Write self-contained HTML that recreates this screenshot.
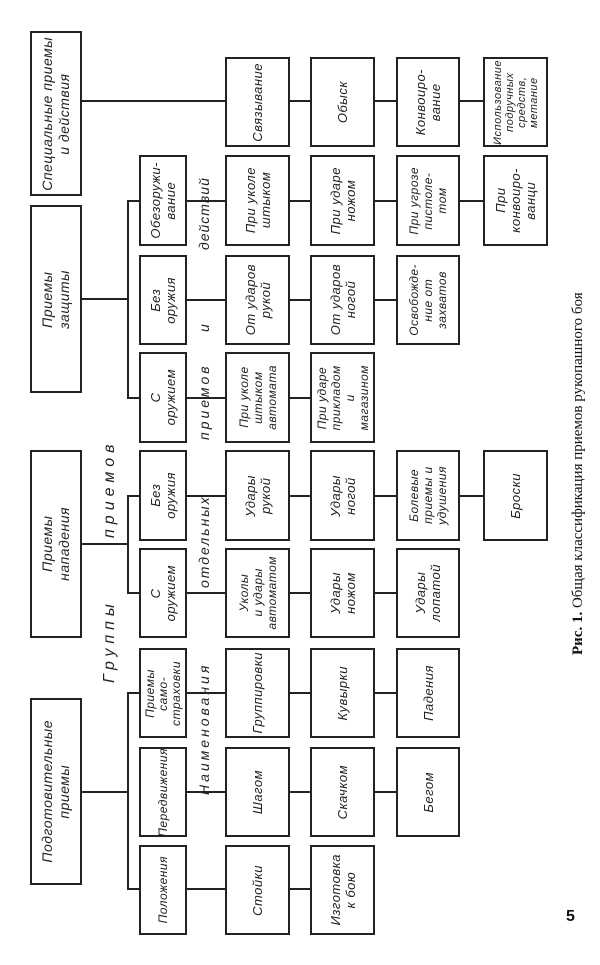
<!DOCTYPE html>
<html><head><meta charset="utf-8"><style>
body{margin:0;width:600px;height:965px;background:#fff;position:relative;overflow:hidden;font-family:"Liberation Sans","DejaVu Sans",sans-serif;}
.b{position:absolute;border:2px solid #222;box-sizing:border-box;display:flex;align-items:center;justify-content:center;background:#fff;}
.t{writing-mode:vertical-rl;transform:rotate(180deg);text-align:center;font-style:italic;font-size:13px;line-height:15px;color:#222;white-space:nowrap;letter-spacing:0.5px;}
.h{position:absolute;background:#222;height:2px;}
.v{position:absolute;background:#222;width:2px;}
.lab{position:absolute;writing-mode:vertical-rl;transform:rotate(180deg);font-style:italic;font-size:14px;color:#222;letter-spacing:3px;white-space:nowrap;}
</style></head><body>

<!-- column 1 -->
<div class="b" style="left:30px;top:31px;width:52px;height:165px"><div class="t" style="font-size:14px;line-height:17px">Специальные приемы<br>и действия</div></div>
<div class="b" style="left:30px;top:205px;width:52px;height:188px"><div class="t" style="font-size:14px;line-height:17px">Приемы<br>защиты</div></div>
<div class="b" style="left:30px;top:450px;width:52px;height:188px"><div class="t" style="font-size:14px;line-height:17px">Приемы<br>нападения</div></div>
<div class="b" style="left:30px;top:698px;width:52px;height:187px"><div class="t" style="font-size:14px;line-height:17px">Подготовительные<br>приемы</div></div>

<!-- connectors col1 -> col2 -->
<div class="h" style="left:82px;top:100px;width:143px"></div>
<div class="h" style="left:82px;top:298px;width:45px"></div>
<div class="v" style="left:127px;top:200px;height:199px"></div>
<div class="h" style="left:127px;top:200px;width:12px"></div>
<div class="h" style="left:127px;top:397px;width:12px"></div>
<div class="h" style="left:82px;top:543px;width:45px"></div>
<div class="v" style="left:127px;top:495px;height:99px"></div>
<div class="h" style="left:127px;top:495px;width:12px"></div>
<div class="h" style="left:127px;top:592px;width:12px"></div>
<div class="h" style="left:82px;top:791px;width:45px"></div>
<div class="v" style="left:127px;top:692px;height:198px"></div>
<div class="h" style="left:127px;top:692px;width:12px"></div>
<div class="h" style="left:127px;top:888px;width:12px"></div>

<!-- row connectors (col2 -> col6) -->
<div class="h" style="left:187px;top:200px;width:296px"></div>
<div class="h" style="left:187px;top:299px;width:210px"></div>
<div class="h" style="left:187px;top:397px;width:125px"></div>
<div class="h" style="left:187px;top:495px;width:296px"></div>
<div class="h" style="left:187px;top:592px;width:210px"></div>
<div class="h" style="left:187px;top:692px;width:210px"></div>
<div class="h" style="left:187px;top:791px;width:210px"></div>
<div class="h" style="left:187px;top:888px;width:125px"></div>
<div class="h" style="left:290px;top:100px;width:193px"></div>

<!-- column 2 -->
<div class="b" style="left:139px;top:155px;width:48px;height:91px"><div class="t">Обезоружи-<br>вание</div></div>
<div class="b" style="left:139px;top:255px;width:48px;height:90px"><div class="t">Без<br>оружия</div></div>
<div class="b" style="left:139px;top:352px;width:48px;height:91px"><div class="t">С<br>оружием</div></div>
<div class="b" style="left:139px;top:450px;width:48px;height:91px"><div class="t">Без<br>оружия</div></div>
<div class="b" style="left:139px;top:548px;width:48px;height:90px"><div class="t">С<br>оружием</div></div>
<div class="b" style="left:139px;top:648px;width:48px;height:90px"><div class="t" style="font-size:12px;line-height:13px">Приемы<br>само-<br>страховки</div></div>
<div class="b" style="left:139px;top:747px;width:48px;height:90px"><div class="t" style="font-size:12px">Передвижения</div></div>
<div class="b" style="left:139px;top:845px;width:48px;height:90px"><div class="t" style="font-size:12px">Положения</div></div>

<!-- column 3 -->
<div class="b" style="left:225px;top:57px;width:65px;height:90px"><div class="t">Связывание</div></div>
<div class="b" style="left:225px;top:155px;width:65px;height:91px"><div class="t">При уколе<br>штыком</div></div>
<div class="b" style="left:225px;top:255px;width:65px;height:90px"><div class="t">От ударов<br>рукой</div></div>
<div class="b" style="left:225px;top:352px;width:65px;height:91px"><div class="t" style="font-size:12px;line-height:14px">При уколе<br>штыком<br>автомата</div></div>
<div class="b" style="left:225px;top:450px;width:65px;height:91px"><div class="t">Удары<br>рукой</div></div>
<div class="b" style="left:225px;top:548px;width:65px;height:90px"><div class="t" style="font-size:12px;line-height:14px">Уколы<br>и удары<br>автоматом</div></div>
<div class="b" style="left:225px;top:648px;width:65px;height:90px"><div class="t">Группировки</div></div>
<div class="b" style="left:225px;top:747px;width:65px;height:90px"><div class="t">Шагом</div></div>
<div class="b" style="left:225px;top:845px;width:65px;height:90px"><div class="t">Стойки</div></div>

<!-- column 4 -->
<div class="b" style="left:310px;top:57px;width:65px;height:90px"><div class="t">Обыск</div></div>
<div class="b" style="left:310px;top:155px;width:65px;height:91px"><div class="t">При ударе<br>ножом</div></div>
<div class="b" style="left:310px;top:255px;width:65px;height:90px"><div class="t">От ударов<br>ногой</div></div>
<div class="b" style="left:310px;top:352px;width:65px;height:91px"><div class="t" style="font-size:12px;line-height:14px">При ударе<br>прикладом<br>и<br>магазином</div></div>
<div class="b" style="left:310px;top:450px;width:65px;height:91px"><div class="t">Удары<br>ногой</div></div>
<div class="b" style="left:310px;top:548px;width:65px;height:90px"><div class="t">Удары<br>ножом</div></div>
<div class="b" style="left:310px;top:648px;width:65px;height:90px"><div class="t">Кувырки</div></div>
<div class="b" style="left:310px;top:747px;width:65px;height:90px"><div class="t">Скачком</div></div>
<div class="b" style="left:310px;top:845px;width:65px;height:90px"><div class="t">Изготовка<br>к бою</div></div>

<!-- column 5 -->
<div class="b" style="left:396px;top:57px;width:64px;height:90px"><div class="t">Конвоиро-<br>вание</div></div>
<div class="b" style="left:396px;top:155px;width:64px;height:91px"><div class="t" style="font-size:12px;line-height:14px">При угрозе<br>пистоле-<br>том</div></div>
<div class="b" style="left:396px;top:255px;width:64px;height:90px"><div class="t" style="font-size:12px;line-height:14px">Освобожде-<br>ние от<br>захватов</div></div>
<div class="b" style="left:396px;top:450px;width:64px;height:91px"><div class="t" style="font-size:12px;line-height:14px">Болевые<br>приемы и<br>удушения</div></div>
<div class="b" style="left:396px;top:548px;width:64px;height:90px"><div class="t">Удары<br>лопатой</div></div>
<div class="b" style="left:396px;top:648px;width:64px;height:90px"><div class="t">Падения</div></div>
<div class="b" style="left:396px;top:747px;width:64px;height:90px"><div class="t">Бегом</div></div>

<!-- column 6 -->
<div class="b" style="left:483px;top:57px;width:65px;height:90px"><div class="t" style="font-size:11px;line-height:12px">Использование<br>подручных<br>средств,<br>метание</div></div>
<div class="b" style="left:483px;top:155px;width:65px;height:91px"><div class="t">При<br>конвоиро-<br>ванци</div></div>
<div class="b" style="left:483px;top:450px;width:65px;height:91px"><div class="t">Броски</div></div>

<!-- italic labels -->
<div class="lab" style="left:101px;top:593px;height:90px;font-size:16px;letter-spacing:5px">Группы</div>
<div class="lab" style="left:101px;top:443px;height:95px;font-size:16px;letter-spacing:5px">приемов</div>
<div class="lab" style="left:196px;top:650px;height:145px">Наименования</div>
<div class="lab" style="left:196px;top:508px;height:80px;letter-spacing:2px">отдельных</div>
<div class="lab" style="left:196px;top:360px;height:80px">приемов</div>
<div class="lab" style="left:196px;top:318px;height:14px">и</div>
<div class="lab" style="left:196px;top:205px;height:45px;letter-spacing:1px">действий</div>

<!-- caption -->
<div style="position:absolute;left:570px;top:255px;height:400px;writing-mode:vertical-rl;transform:rotate(180deg);font-family:'Liberation Serif',serif;font-size:15px;color:#111;white-space:nowrap;"><b>Рис. 1.</b> Общая классификация приемов рукопашного боя</div>
<div style="position:absolute;left:566px;top:908px;font-family:'Liberation Sans',sans-serif;font-weight:bold;font-size:16px;color:#111">5</div>
</body></html>
